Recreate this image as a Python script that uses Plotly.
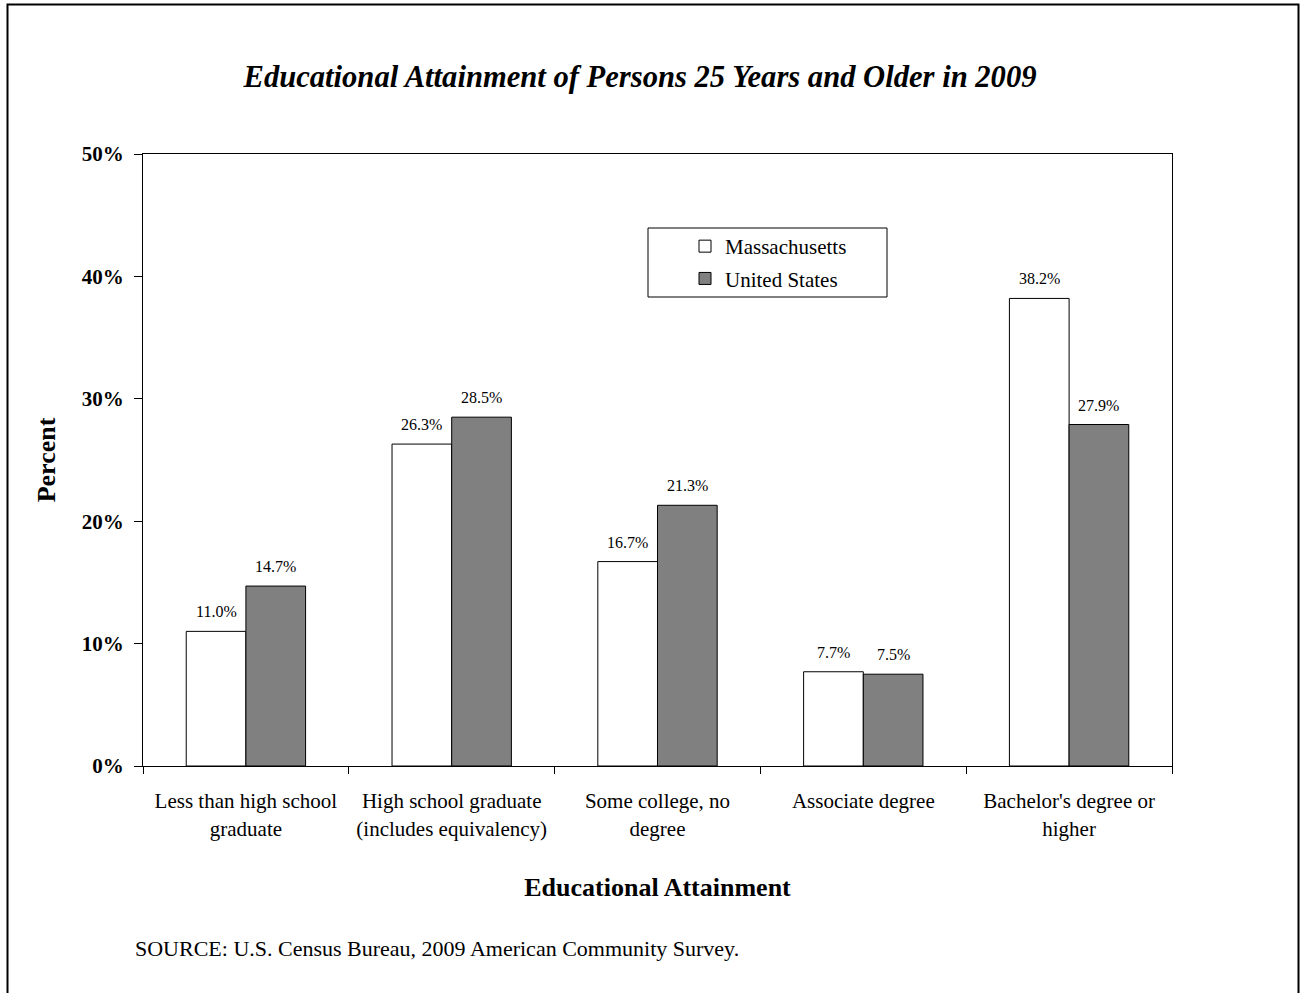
import plotly.graph_objects as go

categories = ["Less than high school<br>graduate",
              "High school graduate<br>(includes equivalency)",
              "Some college, no<br>degree",
              "Associate degree",
              "Bachelor's degree or<br>higher"]
massachusetts = [11.0, 26.3, 16.7, 7.7, 38.2]
united_states = [14.7, 28.5, 21.3, 7.5, 27.9]
y_ticks = [0, 10, 20, 30, 40, 50]
y_tick_labels = ["0%", "10%", "20%", "30%", "40%", "50%"]

FONT = "Liberation Serif, Times New Roman, serif"

PL, PR, PT, PB = 143, 1172, 154, 766   # plot area in page pixels
PW, PH = PR - PL, PB - PT
W, H = 1304, 993


def px(x):
    return (x - PL) / PW


def py(y):
    return (PB - y) / PH


fig = go.Figure()
fig.add_trace(go.Bar(x=categories, y=massachusetts, name="Massachusetts",
                     marker=dict(color="white", line=dict(color="black", width=1)),
                     legendgroup="a"))
fig.add_trace(go.Bar(x=categories, y=united_states, name="United States",
                     marker=dict(color="#808080", line=dict(color="black", width=1)),
                     legendgroup="b"))

# value labels
bar_px = PW / 5 * (1 - 0.42) / 2
for series, shift in ((massachusetts, -bar_px / 2), (united_states, bar_px / 2)):
    for c, v in zip(categories, series):
        fig.add_annotation(x=c, y=v, text=f"{v:.1f}%", showarrow=False,
                           xshift=shift, yshift=9, yanchor="bottom",
                           font=dict(family=FONT, size=16, color="black"))

# source note
fig.add_annotation(xref="paper", yref="paper", x=px(133), y=py(948),
                   xanchor="left", yanchor="middle", showarrow=False,
                   text="SOURCE: U.S. Census Bureau, 2009 American Community Survey.",
                   font=dict(family=FONT, size=22, color="black"))

# outer frame
fig.add_shape(type="rect", xref="paper", yref="paper",
              x0=px(7.5), x1=px(1298.5), y0=py(1010), y1=py(4.5),
              line=dict(color="black", width=2), fillcolor="rgba(0,0,0,0)", layer="below")
# legend frame
fig.add_shape(type="rect", xref="paper", yref="paper",
              x0=px(648), x1=px(887), y0=py(297), y1=py(228),
              line=dict(color="black", width=1), fillcolor="white", layer="below")

fig.update_layout(
    width=W, height=H,
    margin=dict(l=PL, r=W - PR, t=PT, b=H - PB),
    paper_bgcolor="white", plot_bgcolor="rgba(0,0,0,0)",
    barmode="group", bargap=0.42, bargroupgap=0,
    font=dict(family=FONT, color="black"),
    title=dict(text="<b><i>Educational Attainment of Persons 25 Years and Older in 2009</i></b>",
               x=640 / W, xanchor="center", y=1 - 76 / H, yanchor="middle",
               font=dict(family=FONT, size=30.6, color="black")),
    legend=dict(x=px(685), y=py(226), xanchor="left", yanchor="top",
                bgcolor="rgba(0,0,0,0)", borderwidth=0, tracegroupgap=2,
                font=dict(family=FONT, size=21, color="black")),
    showlegend=True,
    xaxis=dict(type="category", showline=True, linecolor="black", linewidth=1, mirror=True,
               ticks="outside", tickson="boundaries", ticklen=7, tickcolor="black",
               ticklabelstandoff=16,
               tickfont=dict(family=FONT, size=21, color="black"),
               showgrid=False, zeroline=False,
               title=dict(text="<b>Educational Attainment</b>", standoff=38,
                          font=dict(family=FONT, size=26, color="black"))),
    yaxis=dict(range=[0, 50], tickvals=y_ticks, ticktext=y_tick_labels,
               showline=True, linecolor="black", linewidth=1, mirror=True,
               ticks="outside", ticklen=8, tickcolor="black",
               ticklabelstandoff=6,
               tickfont=dict(family=FONT, size=21, color="black", weight="bold"),
               showgrid=False, zeroline=False,
               title=dict(text="<b>Percent</b>", standoff=18,
                          font=dict(family=FONT, size=26, color="black"))),
)

fig.write_html("out.html", config={"displayModeBar": False},
               post_script="document.body.style.margin='0px';document.body.style.overflow='hidden';")
